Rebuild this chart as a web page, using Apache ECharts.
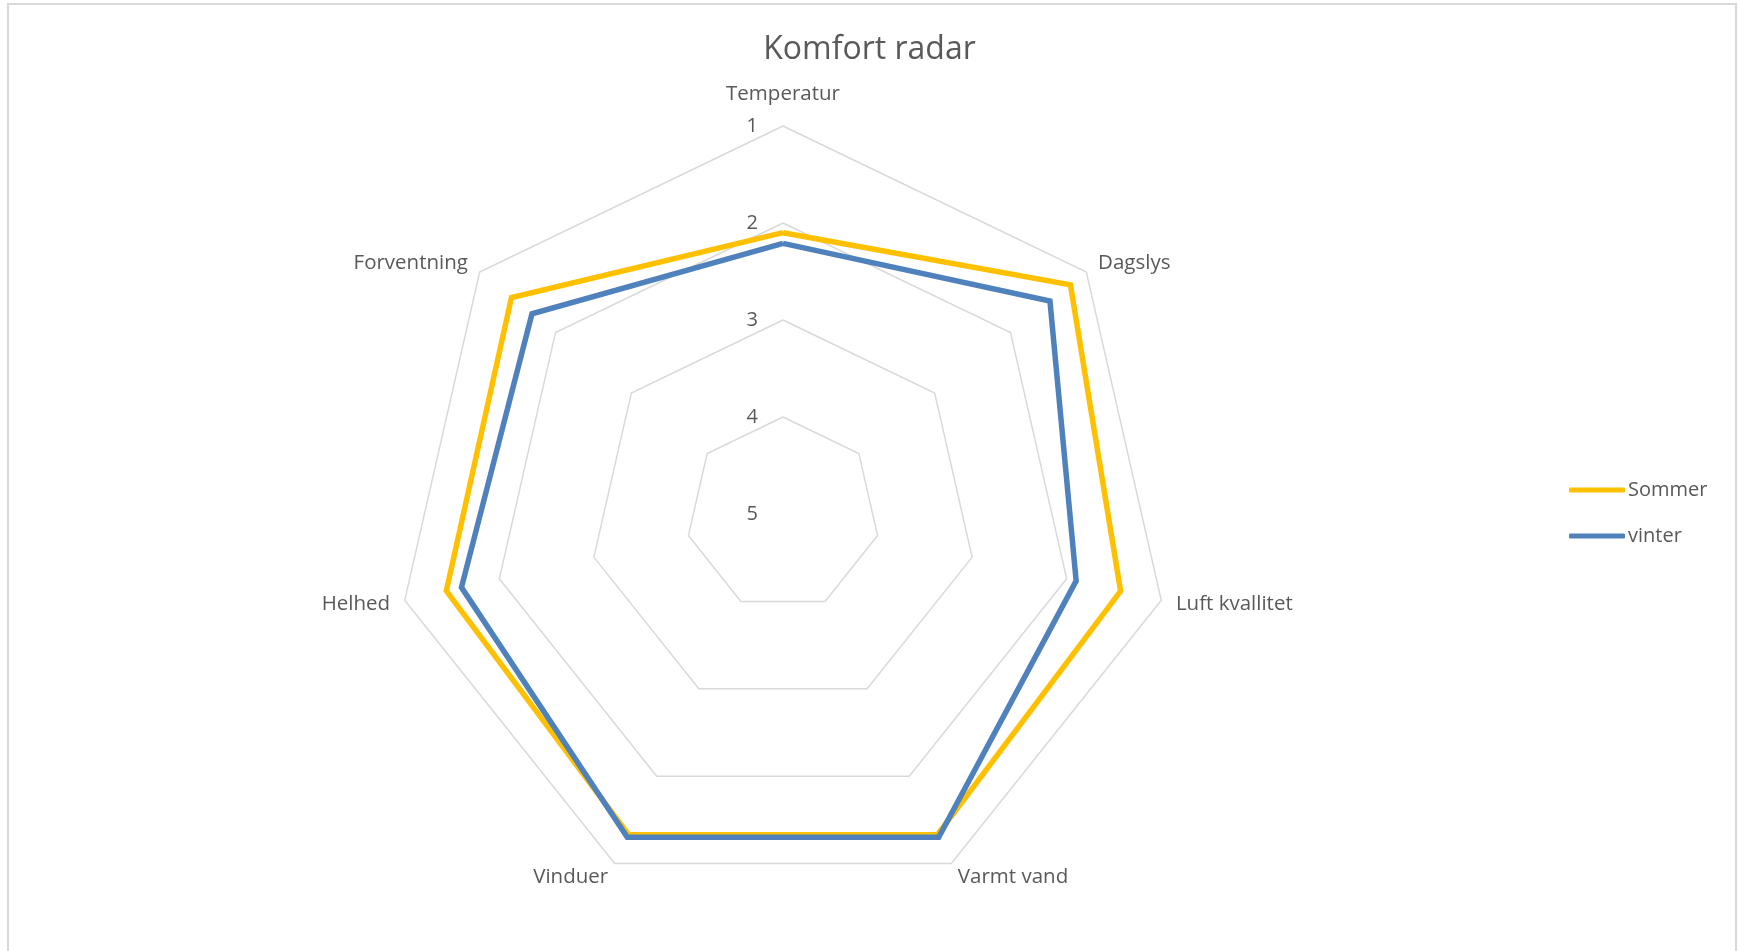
<!DOCTYPE html>
<html>
<head>
<meta charset="utf-8">
<script src="https://cdn.jsdelivr.net/npm/echarts@6/dist/echarts.min.js"></script>
<style>
  html, body { margin: 0; padding: 0; background: #fff; overflow: hidden; }
  #chart { width: 1739px; height: 951px; }
  #frame { position: absolute; left: 7px; top: 3px; width: 1726px; height: 1000px;
           border: 2px solid #d9d9d9; pointer-events: none; }
</style>
</head>
<body>
<div id="chart"></div>
<div id="frame"></div>
<script>
  // kategorier i Excel-rækkefølge (med uret fra toppen)
  const categories = ['Temperatur', 'Dagslys', 'Luft kvallitet', 'Varmt vand', 'Vinduer', 'Helhed', 'Forventning']
  // skala 1 (yderst) .. 5 (centrum)
  const tickLabels = [1, 2, 3, 4, 5]
  const sommer = [2.1, 1.21, 1.43, 1.33, 1.33, 1.44, 1.42]
  const vinter = [2.21, 1.48, 1.9, 1.3, 1.3, 1.6, 1.69]

  const minVal = tickLabels[0]
  const maxVal = tickLabels[tickLabels.length - 1]

  // echarts tegner radar mod uret, så rækkefølgen vendes (første punkt bliver i toppen)
  const ccw = (arr) => [arr[0]].concat(arr.slice(1).reverse())
  // omvendt akse: 1 yderst, 5 i midten
  const flip = (arr) => arr.map(v => maxVal - v)

  const font = '"Open Sans", sans-serif'
  const grey = '#595959'

  const chart = echarts.init(document.getElementById('chart'))

  const indicators = ccw(categories).map((name, i) => {
    const ind = { name: name, min: 0, max: maxVal - minVal }
    // kun første akse viser tal, og navnet sidder lidt højere
    if (i === 0) {
      ind.axisLabel = { show: true }
      ind.nameGap = 21
    }
    return ind
  })

  chart.setOption({
    animation: false,
    title: {
      text: 'Komfort radar',
      left: 'center',
      top: 29,
      textStyle: { fontFamily: font, fontSize: 32, fontWeight: 'normal', color: grey }
    },
    legend: {
      orient: 'vertical',
      left: 1564,
      top: 475,
      itemGap: 26,
      itemWidth: 56,
      itemHeight: 5,
      icon: 'roundRect',
      textStyle: { fontFamily: font, fontSize: 20, color: grey, padding: [0, 0, 0, -2] },
      data: ['Sommer', 'vinter']
    },
    radar: {
      center: [783, 514],
      radius: 388,
      startAngle: 90,
      shape: 'polygon',
      splitNumber: tickLabels.length - 1,
      indicator: indicators,
      nameGap: 15,
      axisName: { fontFamily: font, fontSize: 20.5, color: grey },
      axisLine: { show: false },
      axisTick: { show: false },
      axisLabel: {
        show: false,
        margin: 25,
        fontFamily: font,
        fontSize: 20,
        color: grey,
        formatter: (v) => String(maxVal - v)
      },
      splitLine: { lineStyle: { color: '#d9d9d9', width: 1.5 } },
      splitArea: { show: false }
    },
    series: [{
      type: 'radar',
      symbol: 'none',
      data: [
        {
          name: 'Sommer',
          value: flip(ccw(sommer)),
          lineStyle: { color: '#FFC000', width: 5.5, join: 'miter' },
          itemStyle: { color: '#FFC000' }
        },
        {
          name: 'vinter',
          value: flip(ccw(vinter)),
          lineStyle: { color: '#4F81BD', width: 5.5, join: 'miter' },
          itemStyle: { color: '#4F81BD' }
        }
      ]
    }]
  })
</script>
</body>
</html>
